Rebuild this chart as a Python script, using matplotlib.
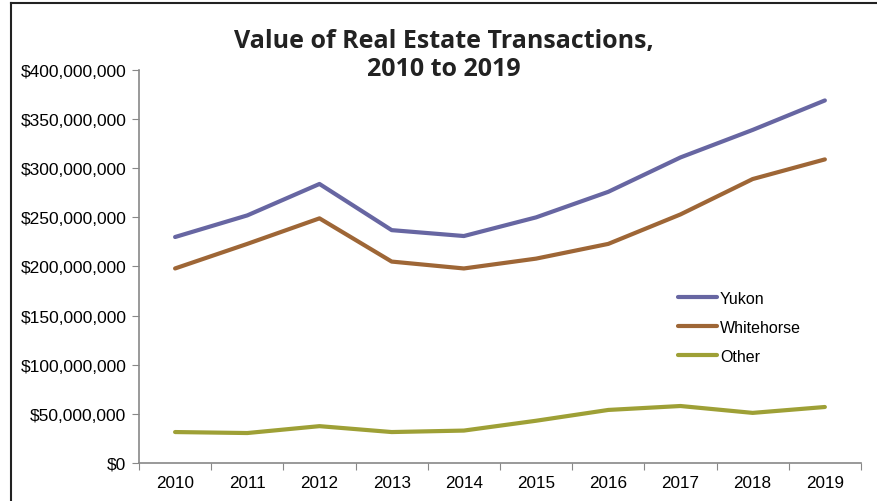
import matplotlib
matplotlib.use("Agg")
import matplotlib.pyplot as plt
from matplotlib.ticker import FuncFormatter, FixedLocator
from matplotlib.lines import Line2D

years = ["2010", "2011", "2012", "2013", "2014", "2015", "2016", "2017", "2018", "2019"]
yukon = [230e6, 252e6, 284e6, 237e6, 231e6, 250e6, 276e6, 311e6, 339e6, 369e6]
whitehorse = [198e6, 223e6, 249e6, 205e6, 198e6, 208e6, 223e6, 253e6, 289e6, 309e6]
other = [31.5e6, 30.5e6, 37.5e6, 31.5e6, 33e6, 43e6, 54e6, 58e6, 51e6, 57e6]

series = [("Yukon", yukon, "#6766a2"),
          ("Whitehorse", whitehorse, "#9e6636"),
          ("Other", other, "#9ea036")]

plt.rcParams['font.family'] = ['Liberation Sans', 'DejaVu Sans']

fig = plt.figure(figsize=(8.78, 5.02), dpi=100)
ax = fig.add_axes([0.1583, 0.0757, 0.8223, 0.7829])

x = list(range(len(years)))
for name, vals, col in series:
    ax.plot(x, vals, color=col, lw=3.0, solid_capstyle='round', label=name)

ax.set_ylim(0, 400e6)
ax.set_yticks([i * 50e6 for i in range(9)])
ax.yaxis.set_major_formatter(FuncFormatter(lambda v, p: "${:,.0f}".format(v)))
ax.set_xlim(-0.5, len(years) - 0.5)
ax.xaxis.set_major_locator(FixedLocator([i - 0.5 for i in range(len(years) + 1)]))
ax.xaxis.set_minor_locator(FixedLocator(x))
ax.set_xticklabels([])
ax.set_xticklabels(years, minor=True)
ax.tick_params(axis='x', which='minor', length=0, pad=9, labelsize=12.3)
ax.tick_params(axis='x', which='major', length=5, direction='out', color='#888888')
ax.tick_params(axis='y', length=5, direction='out', color='#888888', labelsize=12.5, pad=4)

for s in ['top', 'right']:
    ax.spines[s].set_visible(False)
for s in ['left', 'bottom']:
    ax.spines[s].set_color('#888888')
    ax.spines[s].set_linewidth(1.2)

leg = ax.legend(loc='upper left', bbox_to_anchor=(0.727, 0.475), frameon=False,
                fontsize=11.5, handlelength=2.45, handletextpad=0.15, labelspacing=0.88)

fig.text(0.505, 0.836, "Value of Real Estate Transactions,\n2010 to 2019",
         ha='center', va='bottom', fontsize=18, fontweight='bold',
         family='Open Sans', color='#222222', linespacing=1.2)

# outer frame (top and left edge)
fig.add_artist(Line2D([0.0125, 1.0], [0.992, 0.992], transform=fig.transFigure, color='#222222', lw=1.5))
fig.add_artist(Line2D([0.0125, 0.0125], [0.0, 0.992], transform=fig.transFigure, color='#222222', lw=1.5))

fig.savefig("out.png", dpi=100)
